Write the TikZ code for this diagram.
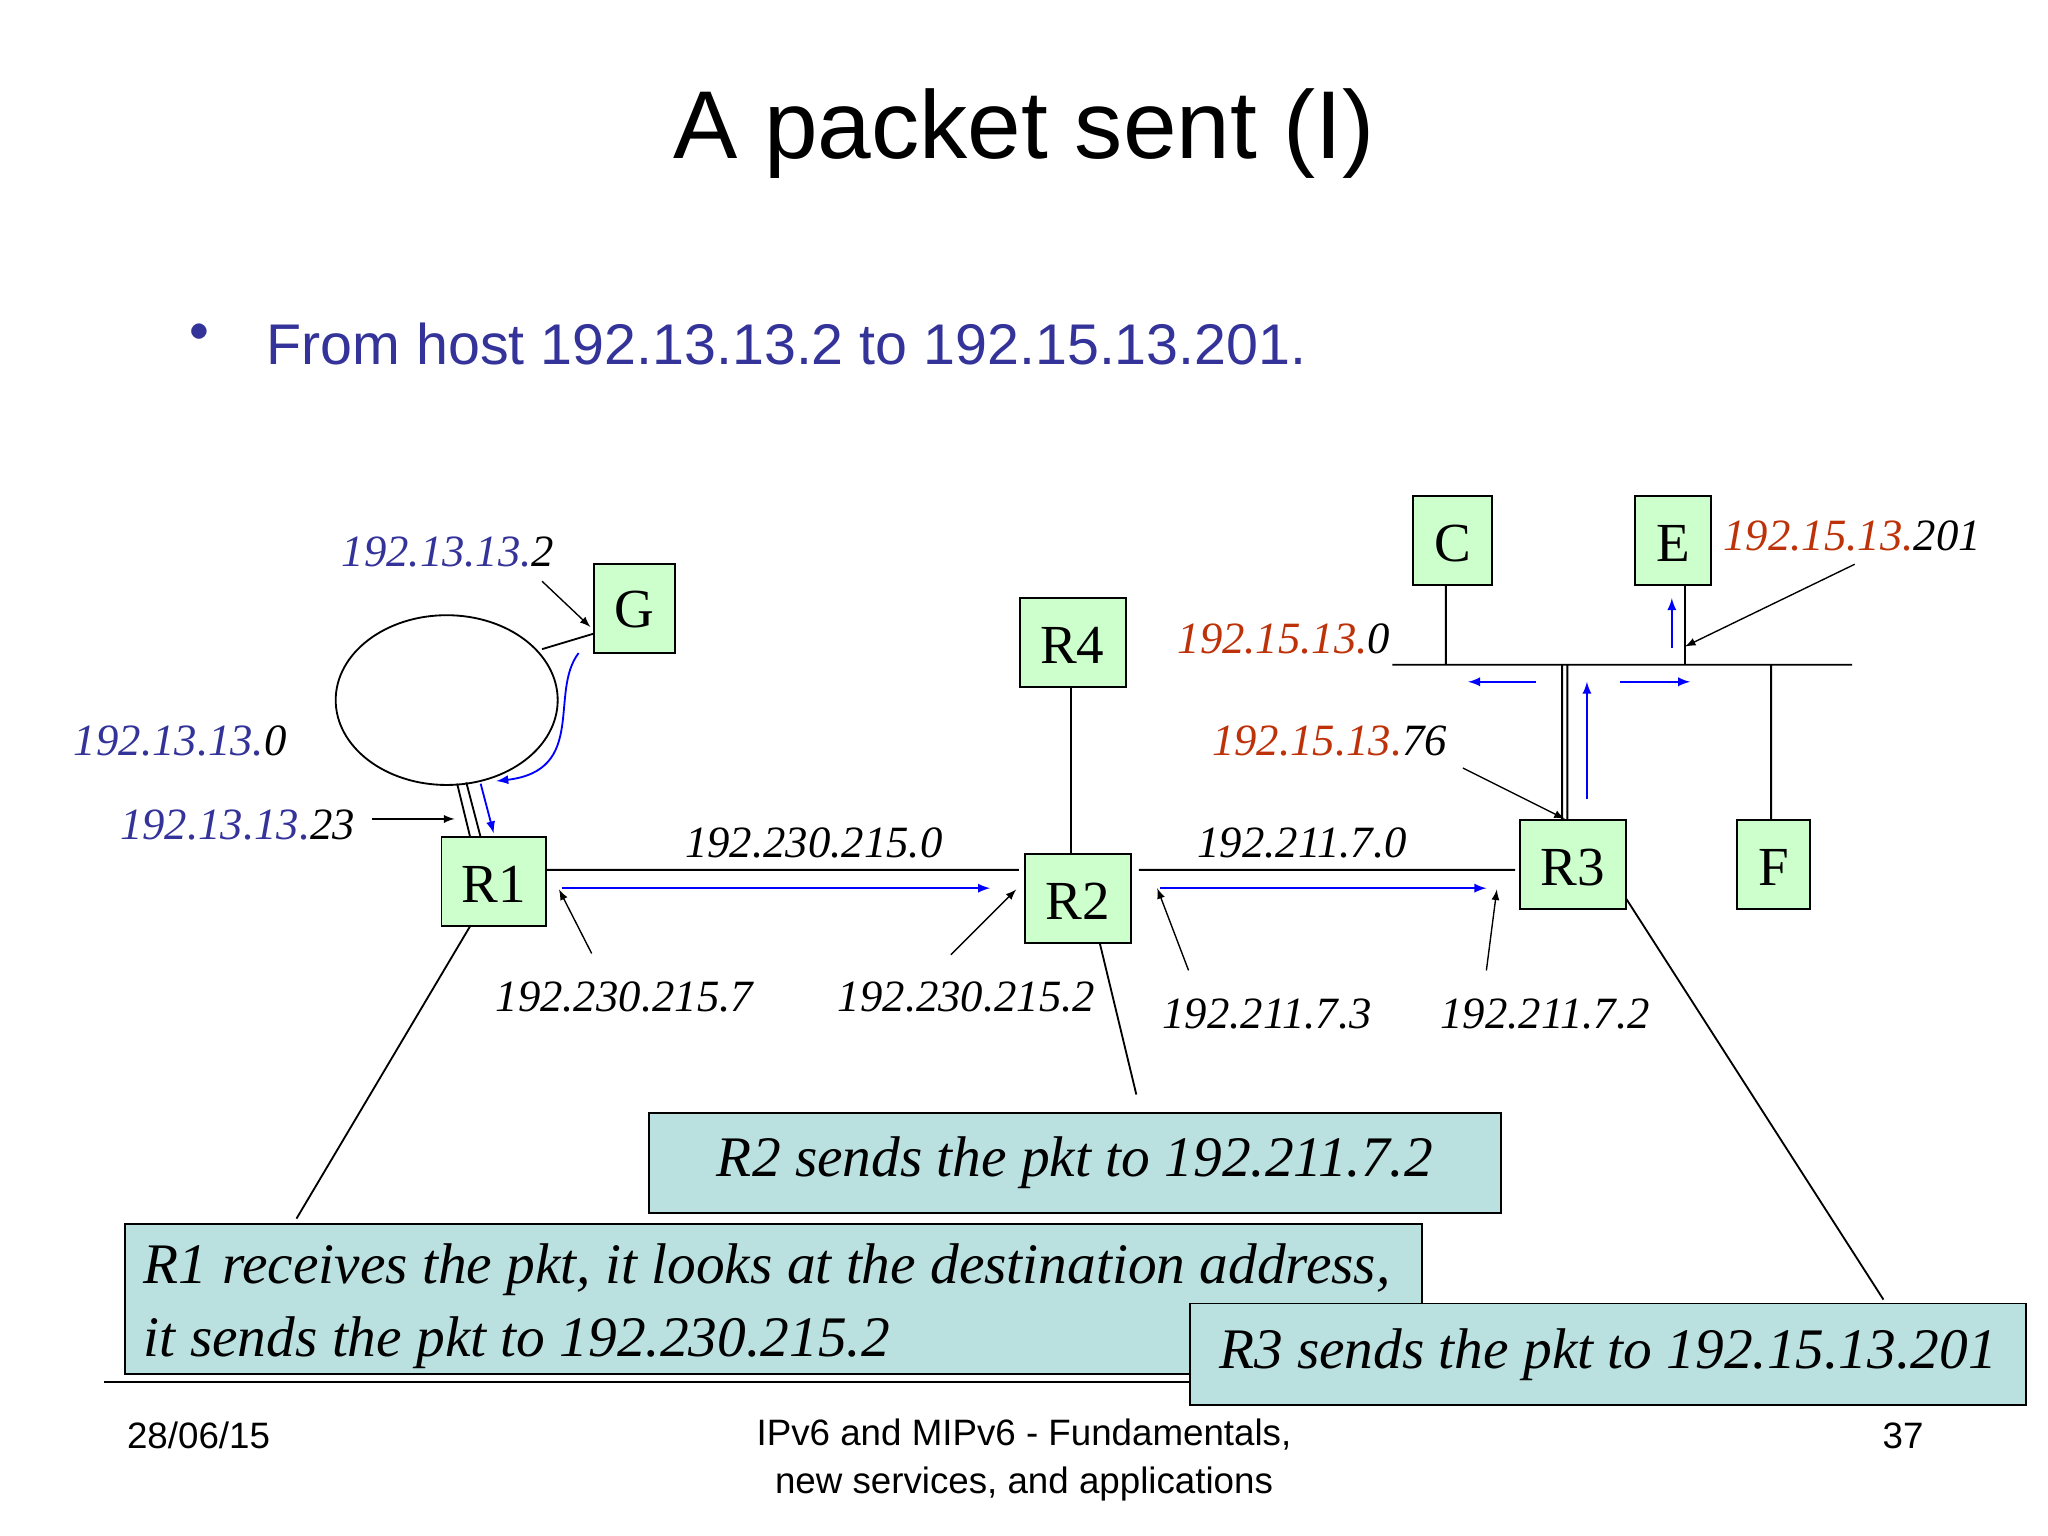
\documentclass[tikz,border=0pt]{standalone}
\usepackage{fontspec}
\usetikzlibrary{shapes.geometric}
\setmainfont{Liberation Serif}
\newfontfamily\arial{Liberation Sans}
\begin{document}
\begin{tikzpicture}[x=0.02cm,y=-0.02cm,
 box/.style={draw,fill=green!20,line width=0.8pt},
 call/.style={draw,fill=callc,line width=0.8pt},
 lab/.style={font=\fontsize{19.5}{21}\selectfont\itshape},
 nl/.style={font=\fontsize{24}{26}\selectfont},
 bl/.style={blue,-latex,line width=0.8pt},
 kl/.style={black,-latex,line width=0.6pt}]
\definecolor{tblue}{RGB}{51,51,153}
\definecolor{tred}{RGB}{190,50,10}
\definecolor{callc}{RGB}{186,224,224}
\path[use as bounding box,fill=white] (0,0) rectangle (1568,1176);
\node[font=\arial\fontsize{42}{46}\selectfont] (title) at (784,102) {A packet sent (I)};
\node[tblue,font=\arial\fontsize{18}{20}\selectfont] (bul) at (153,255) {$\bullet$};
\node[tblue,anchor=west,font=\arial\fontsize{25}{27}\selectfont] (sub) at (198,263) {From host 192.13.13.2 to 192.15.13.201.};
% links
\node[draw,ellipse,minimum width=3.4cm,minimum height=2.6cm,line width=0.8pt] (ell) at (342,536) {};
\draw[line width=0.8pt] (418,666)--(780,666) (872,666)--(1160,666) (820,526)--(820,654)
 (1066,509)--(1418,509) (1107,448)--(1107,509) (1290,448)--(1290,509) (1356,509)--(1356,628)
 (1196,509)--(1196,628) (1200,509)--(1200,628)
 (415,497)--(455,485) (350,600)--(360,641) (357,599)--(368,641);
\draw[line width=0.8pt] (80,1058)--(1470,1058);
% nodes
\path[box] (455,432) rectangle (517,500); \node[nl] (G) at (486,467) {G};
\path[box] (781,458) rectangle (862,526); \node[nl] (R4) at (821,494) {R4};
\path[box] (1082,380) rectangle (1142,448); \node[nl] (C) at (1112,416) {C};
\path[box] (1252,380) rectangle (1310,448); \node[nl] (E) at (1281,416) {E};
\path[box] (338,641) rectangle (418,709); \node[nl] (R1) at (378,677) {R1};
\path[box] (785,654) rectangle (866,722); \node[nl] (R2) at (825,690) {R2};
\path[box] (1164,628) rectangle (1245,696); \node[nl] (R3) at (1204,664) {R3};
\path[box] (1330,628) rectangle (1386,696); \node[nl] (F) at (1358,664) {F};
% blue arrows
\draw[bl] (430,680)--(758,680);
\draw[bl] (888,680)--(1138,680);
\draw[bl] (1215,612)--(1215,522);
\draw[bl] (1176,522)--(1124,522);
\draw[bl] (1240,522)--(1294,522);
\draw[bl] (1280,496)--(1280,458);
\draw[bl] (443,500) .. controls (420,530) and (450,590) .. (380,598);
\draw[bl] (368,600)--(378,638);
% black arrows
\draw[kl] (415,445)--(452,480);
\draw[kl] (285,627)--(348,627);
\draw[kl] (453,730)--(428,681);
\draw[kl] (728,731)--(778,681);
\draw[kl] (910,743)--(886,680);
\draw[kl] (1138,743)--(1146,681);
\draw[kl] (1120,588)--(1198,627);
\draw[kl] (1420,432)--(1290,495);
% labels
\node[lab] (l1) at (343,423) {\textcolor{tblue}{192.13.13.}2};
\node[lab] (l2) at (138,567) {\textcolor{tblue}{192.13.13.}0};
\node[lab] (l3) at (182,632) {\textcolor{tblue}{192.13.13.}23};
\node[lab] (l4) at (983,489) {\textcolor{tred}{192.15.13.}0};
\node[lab] (l5) at (1018,567) {\textcolor{tred}{192.15.13.}76};
\node[lab] (l6) at (1418,410) {\textcolor{tred}{192.15.13.}201};
\node[lab] (l7) at (623,645) {192.230.215.0};
\node[lab] (l8) at (997,645) {192.211.7.0};
\node[lab] (l9) at (478,763) {192.230.215.7};
\node[lab] (l10) at (740,763) {192.230.215.2};
\node[lab] (l11) at (970,776) {192.211.7.3};
\node[lab] (l12) at (1183,776) {192.211.7.2};
% callouts
\draw[line width=0.8pt] (360,709)--(227,933) (842,722)--(870,838) (1245,688)--(1442,995);
\path[call] (497,852) rectangle (1149,929);
\node[font=\fontsize{25}{28}\selectfont\itshape] (c2) at (823,890) {R2 sends the pkt to 192.211.7.2};
\path[call] (96,937) rectangle (1089,1052);
\node[anchor=west,align=left,font=\fontsize{25}{32}\selectfont\itshape] (c1) at (104,1000) {R1 receives the pkt, it looks at the destination address,\\it sends the pkt to 192.230.215.2};
\path[call] (911,998) rectangle (1551,1076);
\node[font=\fontsize{25}{28}\selectfont\itshape] (c3) at (1231,1037) {R3 sends the pkt to 192.15.13.201};
% footer
\node[font=\arial\fontsize{16}{18}\selectfont] (f1) at (152,1099) {28/06/15};
\node[align=center,font=\arial\fontsize{16}{21}\selectfont] (f2) at (784,1118) {IPv6 and MIPv6 - Fundamentals,\\new services, and applications};
\node[font=\arial\fontsize{16}{18}\selectfont] (f3) at (1457,1099) {37};
\end{tikzpicture}
\end{document}
